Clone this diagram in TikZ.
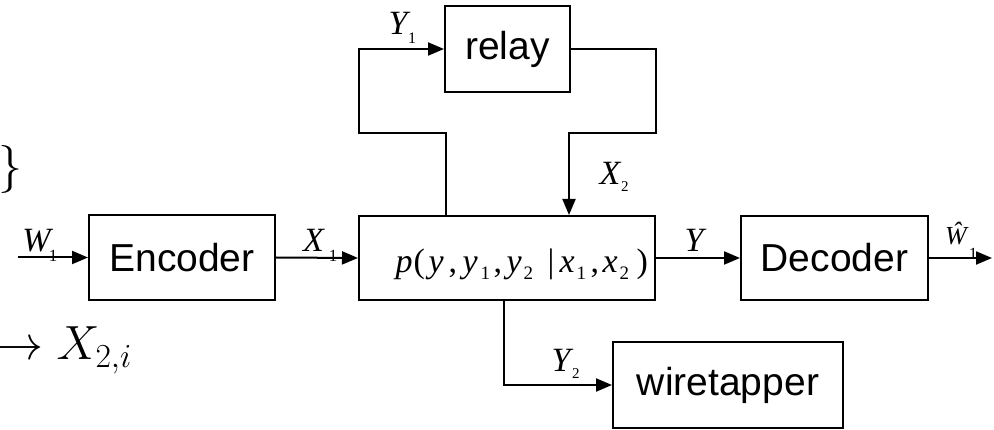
\RequirePackage{fix-cm}
\documentclass[tikz,border=0pt]{standalone}
\usepackage[no-math]{fontspec}
\setmainfont{Liberation Sans}
\newfontfamily\lser{Liberation Serif}
\usetikzlibrary{arrows.meta}
\newcommand\psb[1]{\raisebox{-7pt}{\fontsize{19}{19}\selectfont\upshape #1}}
\newcommand\tok[2]{\makebox[0pt][l]{\hspace{#1pt}#2}}
\tikzset{
  blk/.style={draw, line width=2pt, inner sep=0pt, font=\fontsize{39}{39}\selectfont},
  arr/.style={line width=2pt, -{Triangle[length=16pt,width=13pt]}},
  lab/.style={inner sep=0pt, anchor=base, font=\lser\itshape\fontsize{34}{34}\selectfont},
  sub/.style={inner sep=0pt, anchor=base west, font=\lser\fontsize{15}{15}\selectfont},
  tick/.style={inner sep=0pt, anchor=base, font=\lser\fontsize{17}{17}\selectfont}
}
\begin{document}
\begin{tikzpicture}[x=1pt,y=-1pt]
\useasboundingbox (0,0) rectangle (994,430);
% boxes
\node[blk, minimum width=186pt, minimum height=85pt] (enc) at (182,257.5) {Encoder};
\node[blk, minimum width=296pt, minimum height=84pt] (ch) at (507,258) {};
\node[blk, minimum width=187pt, minimum height=84pt] (dec) at (834.5,258) {Decoder};
\node[blk, minimum width=125pt, minimum height=86pt] (relay) at (507.5,49) {relay};
\node[blk, minimum width=230pt, minimum height=86pt] (wt) at (728,385) {wiretapper};
% channel text
\node[inner sep=0pt, anchor=base west, font=\lser\itshape\fontsize{34}{34}\selectfont] (pt) at (395,273)
 {\tok{0}{p}\tok{18}{\upshape(}\tok{33}{y}\tok{53}{\upshape,}\tok{67}{y}\tok{85}{\psb{1}}\tok{98}{\upshape,}\tok{111}{y}\tok{128}{\psb{2}}\tok{152}{\upshape|}\tok{164}{x}\tok{181}{\psb{1}}\tok{195}{\upshape,}\tok{207}{x}\tok{224}{\psb{2}}\tok{241}{\upshape)}};
% coordinates
\coordinate (w0) at (18,257.5);
\coordinate (w1) at (992,258);
\coordinate (ya) at (446,133);
\coordinate (yb) at (359,133);
\coordinate (xa) at (656,133);
\coordinate (xb) at (569,133);
\coordinate (yc) at (504,387);
% connectors
\draw[arr] (w0) -- (enc.west);
\draw[arr] (enc.east) -- (ch.west);
\draw[arr] (ch.east) -- (dec.west);
\draw[arr] (dec.east) -- (w1);
\draw[arr] (ya |- ch.north) -- (ya) -- (yb) |- (relay.west);
\draw[arr] (relay.east) -| (xa) -- (xb) -- (xb |- ch.north);
\draw[arr] (yc |- ch.south) |- (wt.west);
% labels
\node[lab] (lw) at (36.5,252) {W};
\node[tick] (lw1) at (53,262) {1};
\node[lab] (lx) at (313.5,252) {X};
\node[tick] (lx1) at (333,262) {1};
\node[lab] (ly) at (694,252) {Y};
\node[lab, font=\lser\itshape\fontsize{26}{26}\selectfont] (lwh) at (956,245) {\^W};
\node[tick] (lwh1) at (973,260) {1};
\node[lab] (ly1) at (398,35) {Y};
\node[sub, font=\lser\fontsize{16}{16}\selectfont] (ly1s) at (408,44) {1};
\node[lab] (lx2) at (610,185) {X};
\node[sub] (lx2s) at (621,192) {2};
\node[lab] (ly2) at (561,372) {Y};
\node[sub] (ly2s) at (572,379) {2};
% cut-off text at left
\node[anchor=base west, inner sep=0pt, font=\fontsize{48}{48}\selectfont] (br) at (-2,182) {$\}$};
\node[anchor=base west, inner sep=0pt, font=\fontsize{48}{48}\selectfont] (xi) at (-5,360) {$\rightarrow X_{2,i}$};
\end{tikzpicture}
\end{document}
